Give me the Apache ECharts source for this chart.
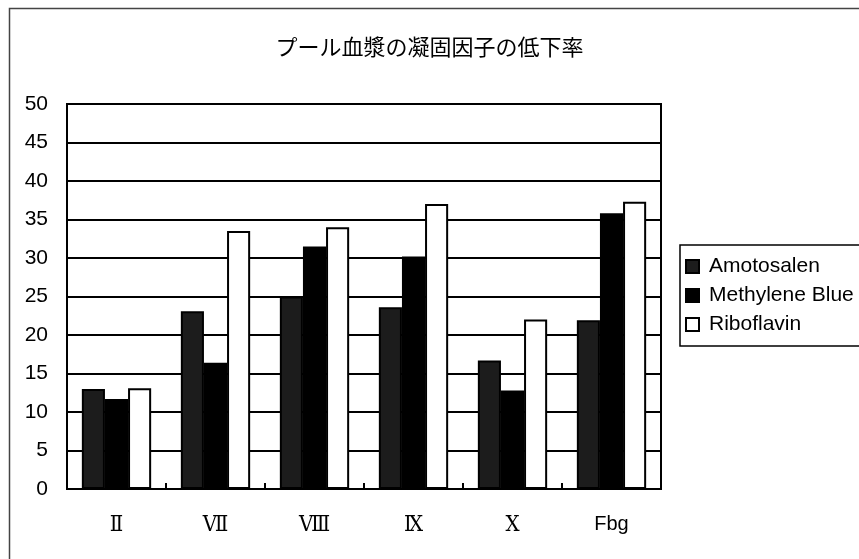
<!DOCTYPE html>
<html>
<head>
<meta charset="utf-8">
<script src="https://cdn.jsdelivr.net/npm/echarts@6/dist/echarts.min.js"></script>
<style>
  html, body { margin: 0; padding: 0; background: #fff; }
  #chart { width: 859px; height: 559px; }
</style>
</head>
<body>
<div id="chart"></div>
<script>
// Coagulation factors (x axis) and reduction rate (%) per inactivation method
const factors = ['Ⅱ', 'Ⅶ', 'Ⅷ', 'Ⅸ', 'Ⅹ', 'Fbg'];
const amotosalen = [13.0, 23.1, 25.0, 23.6, 16.7, 21.9];
const methyleneBlue = [11.7, 16.4, 31.5, 30.2, 12.8, 35.8];
const riboflavin = [13.1, 33.5, 34.0, 37.0, 22.0, 37.3];
const seriesNames = ['Amotosalen', 'Methylene Blue', 'Riboflavin'];
const titleText = 'プール血漿の凝固因子の低下率';

const chart = echarts.init(document.getElementById('chart'));

function barSeries(name, data, fill) {
  return {
    name: name,
    type: 'bar',
    data: data,
    barGap: '0%',
    barCategoryGap: '30%',
    itemStyle: { color: fill, borderColor: '#000', borderWidth: 2 },
    emphasis: { disabled: true }
  };
}

chart.setOption({
  animation: false,
  backgroundColor: '#fff',
  title: {
    text: titleText,
    left: 'center',
    top: 31,
    textStyle: {
      fontFamily: '"Noto Sans CJK JP", sans-serif',
      fontSize: 22,
      fontWeight: 'normal',
      color: '#000'
    }
  },
  graphic: [{
    type: 'rect',
    left: 7,
    top: 6,
    shape: { width: 880, height: 580 },
    style: { fill: 'none', stroke: '#444', lineWidth: 1.5 },
    silent: true
  }],
  legend: {
    orient: 'vertical',
    left: 680,
    top: 245,
    padding: [11, 20, 11, 5],
    itemWidth: 13,
    itemHeight: 13,
    itemGap: 8,
    borderColor: '#000',
    borderWidth: 1.5,
    icon: 'rect',
    selectedMode: false,
    textStyle: {
      fontFamily: '"Liberation Sans", Arial, sans-serif',
      fontSize: 21,
      color: '#000',
      padding: [0, 0, 0, 5]
    },
    data: seriesNames
  },
  grid: {
    left: 67,
    right: 198,
    top: 104,
    bottom: 70,
    show: true,
    borderColor: '#000',
    borderWidth: 2,
    backgroundColor: '#fff'
  },
  xAxis: {
    type: 'category',
    data: factors,
    axisLine: { lineStyle: { color: '#000', width: 2 } },
    axisTick: { show: true, inside: true, length: 6, lineStyle: { color: '#000', width: 2 } },
    axisLabel: {
      margin: 25,
      formatter: function (v) { return /^[A-Za-z]+$/.test(v) ? '{s|' + v + '}' : '{r|' + v + '}'; },
      rich: {
        r: { fontFamily: '"DejaVu Serif Condensed", "Liberation Serif", "DejaVu Serif", serif', fontSize: 22, color: '#000' },
        s: { fontFamily: '"Liberation Sans", Arial, sans-serif', fontSize: 20, color: '#000' }
      }
    }
  },
  yAxis: {
    type: 'value',
    min: 0,
    max: 50,
    interval: 5,
    axisLine: { show: true, lineStyle: { color: '#000', width: 2 } },
    axisTick: { show: false },
    splitLine: { lineStyle: { color: '#000', width: 2 } },
    axisLabel: {
      margin: 19,
      fontFamily: '"Liberation Sans Narrow", "Liberation Sans", Arial, sans-serif',
      fontSize: 21,
      color: '#000'
    }
  },
  series: [
    barSeries(seriesNames[0], amotosalen, '#1c1c1c'),
    barSeries(seriesNames[1], methyleneBlue, '#000'),
    barSeries(seriesNames[2], riboflavin, '#fff')
  ]
});
</script>
</body>
</html>
